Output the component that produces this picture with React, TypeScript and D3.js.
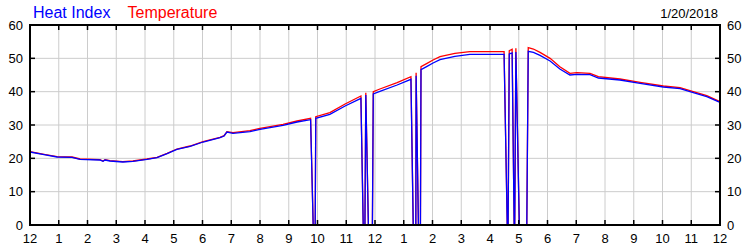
import React from "react";
import * as d3 from "d3";

const times = [
  0.0, 0.49, 0.94, 1.46, 1.74, 2.43, 2.54, 2.61, 2.78, 3.23, 3.58, 4.07, 4.42, 4.77, 5.11, 5.57, 6.02,
  6.61, 6.75, 6.85, 7.06, 7.65, 8.0, 8.8, 9.29, 9.76, 9.85, 9.92, 9.94, 10.43, 10.96, 11.51, 11.59,
  11.65, 11.68, 11.77, 11.91, 11.94, 12.17, 12.77, 13.25, 13.33, 13.42, 13.43, 13.51, 13.58, 13.6,
  13.81, 14.02, 14.26, 14.78, 15.3, 16.49, 16.6, 16.63, 16.67, 16.77, 16.84, 16.86, 16.9, 17.02,
  17.28, 17.33, 17.51, 17.74, 18.09, 18.43, 18.78, 19.02, 19.48, 19.77, 20.52, 21.22, 22.03, 22.61,
  23.07, 23.54, 24.0,
];

const temperature = [
  22.0, 21.2, 20.5, 20.4, 19.8, 19.6, 19.2, 19.6, 19.3, 19.0, 19.2, 19.8, 20.3, 21.5, 22.8, 23.7, 25.0,
  26.3, 26.8, 28.0, 27.7, 28.3, 29.0, 30.2, 31.2, 32.0, 0, 0, 32.5, 33.7, 36.3, 38.7, 0,
  0, 39.7, 0, 0, 40.0, 40.8, 42.7, 44.5, 0, 0, 45.7, 0, 0, 47.5,
  48.5, 49.5, 50.5, 51.5, 52.0, 52.0, 0, 0, 52.3, 52.7, 0, 0, 53.0, 0,
  0, 53.2, 52.8, 51.8, 50.0, 47.5, 45.5, 45.7, 45.5, 44.5, 43.8, 42.8, 41.7, 41.2,
  40.0, 38.8, 37.0,
];

const heatIndex = [
  21.9, 21.1, 20.4, 20.3, 19.7, 19.5, 19.1, 19.5, 19.2, 18.9, 19.1, 19.7, 20.2, 21.4, 22.7, 23.6, 24.9,
  26.2, 26.7, 27.9, 27.5, 28.0, 28.7, 29.9, 30.9, 31.6, 0, 0, 32.0, 33.2, 35.7, 38.0, 0,
  0, 39.0, 0, 0, 39.3, 40.1, 42.0, 43.7, 0, 0, 44.8, 0, 0, 46.6,
  47.6, 48.6, 49.6, 50.6, 51.2, 51.2, 0, 0, 51.3, 51.6, 0, 0, 51.9, 0,
  0, 52.1, 51.8, 50.9, 49.2, 46.8, 45.0, 45.2, 45.1, 44.1, 43.5, 42.5, 41.4, 40.9,
  39.7, 38.5, 36.8,
];

const hourTicks = d3.range(0, 25);
const hourLabels = ["12", "1", "2", "3", "4", "5", "6", "7", "8", "9", "10", "11", "12", "1", "2", "3", "4", "5", "6", "7", "8", "9", "10", "11", "12"];
const valueTicks = [0, 10, 20, 30, 40, 50, 60];
const legend = [
  { label: "Heat Index", color: "#0000ff" },
  { label: "Temperature", color: "#ff0000" },
];
const dateLabel = "1/20/2018";

const W = 750;
const H = 250;
const L = 30, R = 720, T = 25, B = 225;
const FONT = "'Liberation Sans', Arial, sans-serif";

export default function App() {
  const x = d3.scaleLinear().domain([0, 24]).range([L, R]);
  const y = d3.scaleLinear().domain([0, 60]).range([B, T]);
  const line = (vals: number[]) =>
    d3.line<number>().x((_, i) => x(times[i])).y((v) => y(v))(vals) || "";

  return (
    <svg width={W} height={H} style={{ position: "absolute", left: 0, top: 0, background: "#fff" }}>
      <rect x={0} y={0} width={W} height={H} fill="#fff" />
      {/* grid */}
      {hourTicks.slice(1, -1).map((h) => (
        <line key={"gx" + h} x1={x(h)} x2={x(h)} y1={T} y2={B} stroke="#cccccc" strokeWidth={1} />
      ))}
      {valueTicks.slice(1, -1).map((v) => (
        <line key={"gy" + v} x1={L} x2={R} y1={y(v)} y2={y(v)} stroke="#cccccc" strokeWidth={1} />
      ))}
      {/* lines */}
      <path d={line(temperature)} fill="none" stroke="#ff0000" strokeWidth={1.3} />
      <path d={line(heatIndex)} fill="none" stroke="#0000ff" strokeWidth={1.3} />
      {/* frame */}
      <rect x={L} y={T} width={R - L} height={B - T} fill="none" stroke="#000" strokeWidth={2} />
      {/* ticks */}
      {hourTicks.slice(1, -1).map((h) => (
        <g key={"tx" + h}>
          <line x1={x(h)} x2={x(h)} y1={T} y2={T + 5} stroke="#000" strokeWidth={1.5} />
          <line x1={x(h)} x2={x(h)} y1={B} y2={B - 5} stroke="#000" strokeWidth={1.5} />
        </g>
      ))}
      {valueTicks.slice(1, -1).map((v) => (
        <g key={"ty" + v}>
          <line x1={L} x2={L + 5} y1={y(v)} y2={y(v)} stroke="#000" strokeWidth={1.5} />
          <line x1={R} x2={R - 5} y1={y(v)} y2={y(v)} stroke="#000" strokeWidth={1.5} />
        </g>
      ))}
      {/* tick labels */}
      {hourTicks.map((h, i) => (
        <text key={"lx" + h} x={x(h)} y={243} textAnchor="middle" fontFamily={FONT} fontSize={13} fill="#000">
          {hourLabels[i]}
        </text>
      ))}
      {valueTicks.map((v) => (
        <g key={"ly" + v}>
          <text x={23} y={y(v) + 4.5} textAnchor="end" fontFamily={FONT} fontSize={13} fill="#000">
            {v}
          </text>
          <text x={727} y={y(v) + 4.5} textAnchor="start" fontFamily={FONT} fontSize={13} fill="#000">
            {v}
          </text>
        </g>
      ))}
      {/* legend */}
      <text x={33} y={18} fontFamily={FONT} fontSize={16} fill={legend[0].color}>
        {legend[0].label}
      </text>
      <text x={127.5} y={18} fontFamily={FONT} fontSize={16} fill={legend[1].color}>
        {legend[1].label}
      </text>
      <text x={718} y={17.5} textAnchor="end" fontFamily={FONT} fontSize={13} fill="#000">
        {dateLabel}
      </text>
    </svg>
  );
}
